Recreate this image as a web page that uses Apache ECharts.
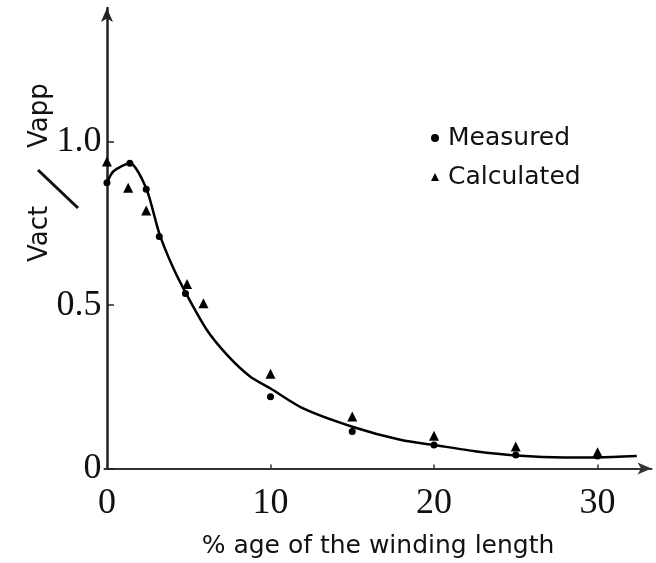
<!DOCTYPE html>
<html>
<head>
<meta charset="utf-8">
<script src="https://cdn.jsdelivr.net/npm/echarts@6/dist/echarts.min.js"></script>
<style>
html,body{margin:0;padding:0;background:#fff;}
#chart{width:656px;height:563px;}
</style>
</head>
<body>
<div id="chart"></div>
<script>
// X tick values and labels
const xTicks = [0, 10, 20, 30];
const yTicks = [0, 0.5, 1.0];
const yTickLabels = ['0', '0.5', '1.0'];

// Fitted curve
const curveX = [0, 0.4, 1.4, 2.4, 3.2, 4.0, 4.9, 6.1, 7.4, 8.75, 10, 12, 15, 18, 20, 22.5, 25, 28, 30, 32.4];
const curveY = [0.875, 0.91, 0.935, 0.858, 0.72, 0.62, 0.53, 0.425, 0.345, 0.282, 0.245, 0.184, 0.128, 0.087, 0.072, 0.053, 0.04, 0.034, 0.034, 0.038];

// Measured points
const measuredX = [0, 1.4, 2.4, 3.2, 4.8, 10, 15, 20, 25, 30];
const measuredY = [0.875, 0.935, 0.855, 0.71, 0.536, 0.22, 0.113, 0.072, 0.041, 0.038];

// Calculated points
const calculatedX = [0, 1.3, 2.4, 4.9, 5.9, 10, 15, 20, 25, 30];
const calculatedY = [0.94, 0.86, 0.79, 0.565, 0.506, 0.29, 0.159, 0.10, 0.067, 0.05];

const zip = (xs, ys) => xs.map((x, i) => [x, ys[i]]);

const chart = echarts.init(document.getElementById('chart'), null, {renderer: 'canvas'});
const ink = '#000';
chart.setOption({
  backgroundColor: '#fff',
  animation: false,
  grid: {left: 104.5, right: 4.5, top: 8, bottom: 94.5, containLabel: false, outerBoundsMode: 'none'},
  xAxis: {
    type: 'value', min: -0.15, max: 33.3,
    axisLine: {show: true, symbol: ['none', 'arrow'], symbolSize: [9, 14], lineStyle: {color: '#333', width: 2}},
    axisTick: {show: true, inside: true, length: 4, customValues: xTicks, lineStyle: {color: '#333', width: 1.5}},
    axisLabel: {customValues: xTicks, margin: 17, color: '#111', fontFamily: 'Liberation Serif', fontSize: 36},
    splitLine: {show: false},
    name: '% age of the winding length',
    nameLocation: 'middle', nameGap: 65,
    nameTextStyle: {color: '#111', fontFamily: 'DejaVu Sans', fontSize: 25, align: 'center'}
  },
  yAxis: {
    type: 'value', min: 0, max: 1.41,
    axisLine: {show: true, symbol: ['none', 'arrow'], symbolSize: [9, 14], lineStyle: {color: '#222', width: 2.5}},
    axisTick: {show: true, inside: true, length: 7, customValues: yTicks, lineStyle: {color: '#222', width: 1.5}},
    axisLabel: {
      customValues: yTicks, margin: 3, color: '#111', fontFamily: 'Liberation Serif', fontSize: 36,
      formatter: v => { const i = yTicks.findIndex(t => Math.abs(t - v) < 1e-9); return i >= 0 ? yTickLabels[i] : ''; }
    },
    splitLine: {show: false}
  },
  legend: {
    orient: 'vertical', left: 426, top: 119,
    itemWidth: 8, itemHeight: 8, itemGap: 11,
    data: [{name: 'Measured', icon: 'circle'}, {name: 'Calculated', icon: 'triangle'}],
    itemStyle: {color: ink, opacity: 1},
    textStyle: {color: '#111', fontFamily: 'DejaVu Sans', fontSize: 25, lineHeight: 28, padding: [0, 0, 0, 4]}
  },
  graphic: [
    {type: 'text', x: 27, y: 148, rotation: Math.PI / 2, style: {text: 'Vapp', font: '26px "DejaVu Sans"', fill: '#111', textAlign: 'left', textVerticalAlign: 'top'}},
    {type: 'line', shape: {x1: 38, y1: 170, x2: 78, y2: 208}, style: {stroke: '#111', lineWidth: 3}},
    {type: 'text', x: 27, y: 262, rotation: Math.PI / 2, style: {text: 'Vact', font: '26px "DejaVu Sans"', fill: '#111', textAlign: 'left', textVerticalAlign: 'top'}}
  ],
  series: [
    {name: 'curve', type: 'line', data: zip(curveX, curveY), showSymbol: false, smooth: 0.25,
     lineStyle: {color: ink, width: 2.5}, z: 2, silent: true},
    {name: 'Measured', type: 'scatter', data: zip(measuredX, measuredY), symbol: 'circle', symbolSize: 7,
     itemStyle: {color: ink, opacity: 1}, z: 3},
    {name: 'Calculated', type: 'scatter', data: zip(calculatedX, calculatedY), symbol: 'triangle', symbolSize: 10,
     itemStyle: {color: ink, opacity: 1}, z: 3}
  ]
});
</script>
</body>
</html>
